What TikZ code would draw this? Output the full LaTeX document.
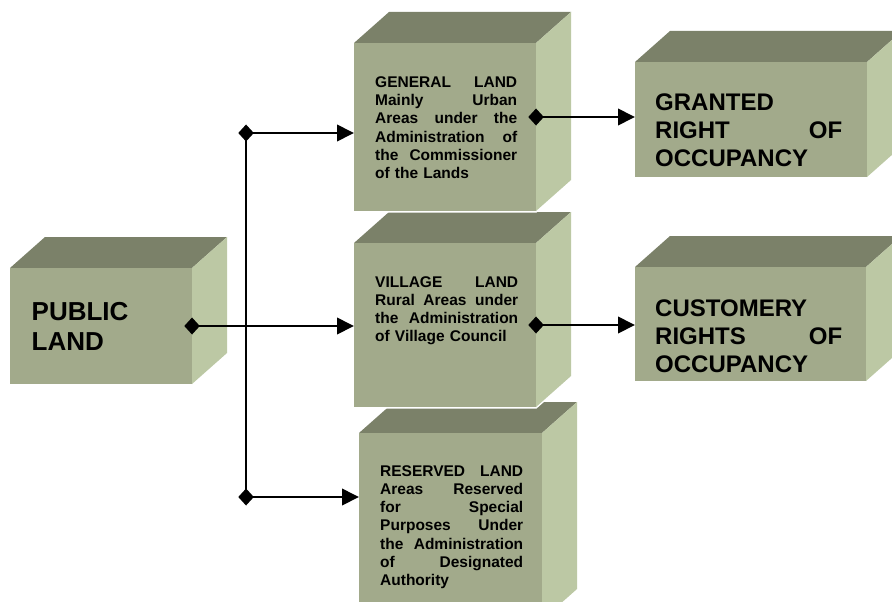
\documentclass[tikz,border=0pt]{standalone}
\usepackage{fontspec}
\setmainfont{Liberation Sans}
\usetikzlibrary{arrows.meta}
\definecolor{frontc}{HTML}{A2AA8B}
\definecolor{topc}{HTML}{7B8169}
\definecolor{sidec}{HTML}{BCC8A4}
\newcommand{\jl}[1]{\hbox to \hsize{\spaceskip=0.2em plus 1fil\relax #1}\par}
\newcommand{\boxfaces}[1]{%
  \fill[white,draw=white,line width=3pt,line join=miter] (#1.south west) -- (#1.north west) -- ([shift={(35,-31)}]#1.north west) -- ([shift={(35,-31)}]#1.north east) -- ([shift={(35,-31)}]#1.south east) -- (#1.south east) -- cycle;
  \fill[topc] (#1.north west) -- ([shift={(35,-31)}]#1.north west) -- ([shift={(35,-31)}]#1.north east) -- (#1.north east) -- cycle;
  \fill[sidec] (#1.north east) -- ([shift={(35,-31)}]#1.north east) -- ([shift={(35,-31)}]#1.south east) -- (#1.south east) -- cycle;
  \fill[frontc] (#1.south west) rectangle (#1.north east);
}
\tikzset{
  face/.style={rectangle, inner sep=0pt, outer sep=0pt},
  small/.style={inner sep=0pt, anchor=base west, font=\bfseries\fontsize{15.5}{18.3}\selectfont},
  big/.style={inner sep=0pt, anchor=base west, font=\bfseries\fontsize{24}{28}\selectfont},
  conn/.style={line width=2pt, {Diamond[length=15.5pt,width=17pt]}-{Triangle[length=17pt,width=16.5pt]}, shorten <=-7.7pt},
  plain/.style={line width=2pt}
}
\begin{document}
\begin{tikzpicture}[x=1pt,y=-1pt]
\clip (0,0) rectangle (892,602);
% front faces (named)
\node[face, minimum width=183pt, minimum height=187pt] (res) at (450.5,526.5) {};
\node[face, minimum width=182pt, minimum height=164pt] (vil) at (445,325) {};
\node[face, minimum width=182pt, minimum height=168pt] (gen) at (445,127) {};
\node[face, minimum width=182pt, minimum height=116pt] (pub) at (101,326) {};
\node[face, minimum width=232pt, minimum height=115pt] (gra) at (751,119.5) {};
\node[face, minimum width=231pt, minimum height=114pt] (cus) at (750.5,324) {};
\boxfaces{res}
\boxfaces{vil}
\boxfaces{gen}
\boxfaces{pub}
\boxfaces{gra}
\boxfaces{cus}
% texts
\node[inner sep=0pt, anchor=base west, font=\bfseries\fontsize{26}{30}\selectfont, text width=150pt] (pubt) at (31.5,320.7) {PUBLIC\\LAND};
\node[small, text width=142pt] (gent) at (375,87.3) {\jl{GENERAL LAND}\jl{Mainly Urban}\jl{Areas under the}\jl{Administration of}\jl{the Commissioner}of the Lands};
\node[small, text width=143pt] (vilt) at (375,287) {\jl{VILLAGE LAND}\jl{Rural Areas under}\jl{the Administration}of Village Council};
\node[small, text width=143pt] (rest) at (380,476) {\jl{RESERVED LAND}\jl{Areas Reserved}\jl{for Special}\jl{Purposes Under}\jl{the Administration}\jl{of Designated}Authority};
\node[big, text width=187pt] (grat) at (655,110.7) {GRANTED\par\jl{RIGHT OF}OCCUPANCY};
\node[big, text width=187pt] (cust) at (655,316.7) {CUSTOMERY\par\jl{RIGHTS OF}OCCUPANCY};
% connectors
\coordinate (j1) at (246,133);
\coordinate (j2) at (246,497);
\draw[plain] (j1) -- (j2);
\draw[conn] (j1) -- (j1 -| gen.west);
\draw[conn] (j2) -- (j2 -| res.west);
\draw[conn] (pub.east) -- (pub.east -| vil.west);
\draw[conn] ([yshift=10pt]gen.east) -- ([yshift=10pt]gen.east -| gra.west);
\draw[conn] (vil.east) -- (vil.east -| cus.west);
\end{tikzpicture}
\end{document}
